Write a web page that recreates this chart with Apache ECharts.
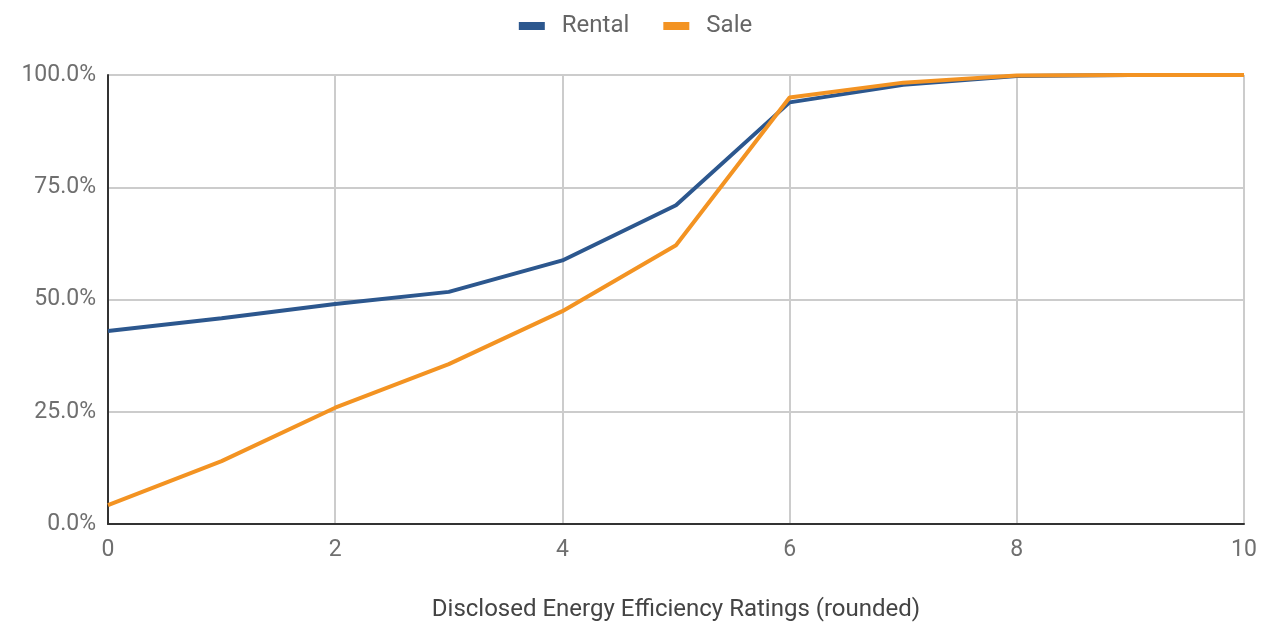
<!DOCTYPE html>
<html><head><meta charset="utf-8">
<script src="https://cdn.jsdelivr.net/npm/echarts@6/dist/echarts.min.js"></script>
<style>html,body{margin:0;padding:0;background:#fff}#c{width:1271px;height:622px}</style>
</head><body><div id="c"></div>
<script>
const ratings = [0, 1, 2, 3, 4, 5, 6, 7, 8, 9, 10];
const rental = [43.0, 45.8, 49.0, 51.7, 58.7, 71.0, 93.9, 97.8, 99.8, 100, 100];
const sale = [4.2, 14.0, 25.9, 35.6, 47.4, 62.1, 95.0, 98.3, 99.9, 100, 100];
const xTicks = [0, 2, 4, 6, 8, 10];
const yTicks = [0, 25, 50, 75, 100];

const chart = echarts.init(document.getElementById('c'));
const font = 'Roboto';
chart.setOption({
  animation: false,
  legend: {
    top: 9, left: 'center', itemWidth: 26, itemHeight: 8, itemGap: 34,
    icon: 'rect',
    textStyle: {fontFamily: font, fontSize: 24, color: '#666666', padding: [0, 0, 0, 12]},
    data: ['Rental', 'Sale']
  },
  grid: {left: 108, right: 27, top: 75, bottom: 98, outerBoundsMode: 'none'},
  xAxis: {
    type: 'value', min: xTicks[0], max: xTicks[xTicks.length-1], interval: 2,
    name: 'Disclosed Energy Efficiency Ratings (rounded)',
    nameLocation: 'middle', nameGap: 74,
    nameTextStyle: {fontFamily: font, fontSize: 24, color: '#444444'},
    axisLine: {show: true, lineStyle: {color: '#333', width: 2}},
    axisTick: {show: false},
    axisLabel: {fontFamily: font, fontSize: 23, color: '#6f6f6f', margin: 15},
    splitLine: {show: true, lineStyle: {color: '#cccccc', width: 2}}
  },
  yAxis: {
    type: 'value', min: yTicks[0], max: yTicks[yTicks.length-1], interval: 25,
    axisLine: {show: true, lineStyle: {color: '#333', width: 2}},
    axisTick: {show: false},
    axisLabel: {fontFamily: font, fontSize: 23, color: '#6f6f6f', margin: 12,
      formatter: v => v.toFixed(1) + '%'},
    splitLine: {show: true, lineStyle: {color: '#cccccc', width: 2}}
  },
  series: [
    {name: 'Rental', type: 'line', showSymbol: false, symbol: 'none',
     data: ratings.map((x, i) => [x, rental[i]]),
     lineStyle: {width: 4, color: '#2c578e'}, itemStyle: {color: '#2c578e'}},
    {name: 'Sale', type: 'line', showSymbol: false, symbol: 'none',
     data: ratings.map((x, i) => [x, sale[i]]),
     lineStyle: {width: 4, color: '#f39322'}, itemStyle: {color: '#f39322'}}
  ]
});
</script></body></html>
